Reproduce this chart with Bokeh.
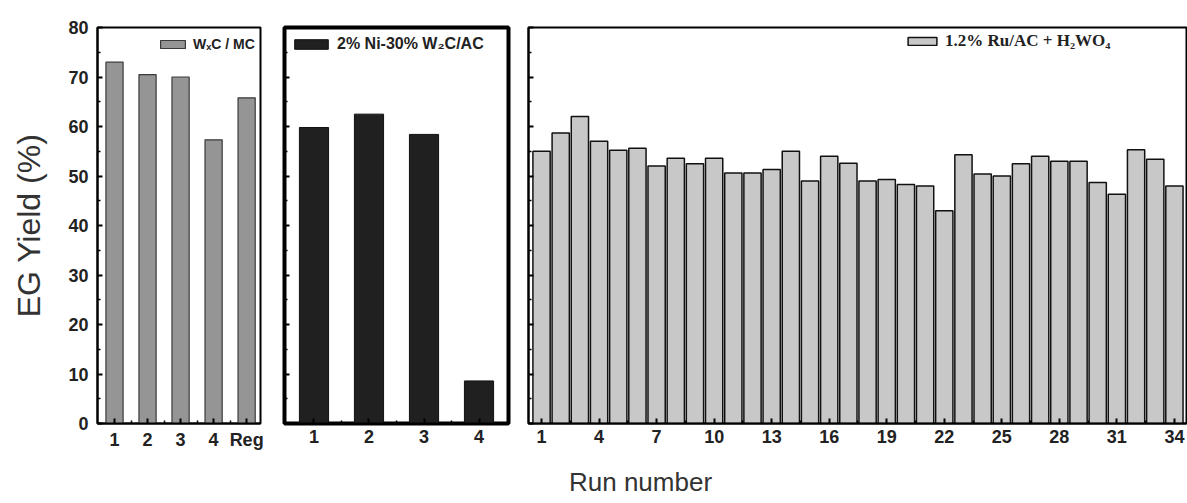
from bokeh.plotting import figure
from bokeh.models import Range1d, FixedTicker, Legend, LegendItem, Label, ColumnDataSource
from bokeh.layouts import row, column
from bokeh.embed import file_html
from bokeh.resources import INLINE

# ---- data ----
wxc_runs = [1, 2, 3, 4, 5]
wxc_labels = ["1", "2", "3", "4", "Reg"]
wxc_yield = [73.0, 70.5, 70.0, 57.3, 65.8]

ni_runs = [1, 2, 3, 4]
ni_yield = [59.8, 62.5, 58.4, 8.6]

ru_runs = list(range(1, 35))
ru_yield = [55.0, 58.7, 62.0, 57.0, 55.2, 55.6, 52.0, 53.6, 52.5, 53.6,
            50.6, 50.6, 51.3, 55.0, 49.0, 54.0, 52.6, 49.0, 49.3, 48.3,
            48.0, 43.0, 54.3, 50.4, 50.0, 52.5, 54.0, 53.0, 53.0, 48.7,
            46.3, 55.3, 53.4, 48.0]
ru_ticks = [1, 4, 7, 10, 13, 16, 19, 22, 25, 28, 31, 34]

y_ticks = [0, 10, 20, 30, 40, 50, 60, 70, 80]
y_minor = [5, 15, 25, 35, 45, 55, 65, 75]

legend_wxc = "WₓC / MC"
legend_ni = "2% Ni-30% W₂C/AC"
legend_ru = "1.2% Ru/AC + H₂WO₄"

SANS = "Liberation Sans"
SERIF = "Liberation Serif"
H = 455


def style(p, outline_w, show_ylabels):
    p.outline_line_color = "black"
    p.outline_line_width = outline_w
    p.xgrid.visible = False
    p.ygrid.visible = False
    for ax in (p.xaxis[0], p.yaxis[0]):
        ax.axis_line_width = 2
        ax.axis_line_color = "black"
        ax.major_tick_in = 5
        ax.major_tick_out = 0
        ax.minor_tick_in = 3
        ax.minor_tick_out = 0
        ax.major_tick_line_width = 2
        ax.minor_tick_line_width = 1.5
        ax.major_label_text_font = SANS
        ax.major_label_text_font_style = "bold"
        ax.major_label_text_font_size = "18px"
        ax.major_label_text_color = "#222222"
    p.yaxis[0].ticker = FixedTicker(ticks=y_ticks, minor_ticks=y_minor)
    p.xaxis[0].major_label_standoff = 6
    if show_ylabels:
        p.yaxis[0].major_label_standoff = 9
    else:
        p.yaxis[0].major_label_overrides = {t: "" for t in y_ticks}
        p.yaxis[0].major_label_standoff = 0
        p.yaxis[0].major_label_text_font_size = "1px"


def add_legend(p, r, label, vx, vy, gw, gh, font, size):
    leg = Legend(items=[LegendItem(label=label, renderers=[r])],
                 location=(vx, vy), orientation="vertical")
    leg.background_fill_alpha = 0
    leg.border_line_color = None
    leg.padding = 0
    leg.margin = 0
    leg.spacing = 0
    leg.glyph_width = gw
    leg.glyph_height = gh
    leg.label_height = gh
    leg.label_standoff = 5
    leg.label_text_font = font
    leg.label_text_font_style = "bold"
    leg.label_text_font_size = size
    leg.label_text_color = "#222222"
    p.add_layout(leg, "center")


# ---- panel 1 ----
p1 = figure(width=272, height=H, x_range=Range1d(0.485, 5.42), y_range=Range1d(0, 80),
            output_backend="svg", toolbar_location=None,
            min_border_left=97, min_border_right=12, min_border_top=27, min_border_bottom=32)
src1 = ColumnDataSource(dict(x=wxc_runs, y=wxc_yield))
r1 = p1.vbar(x="x", top="y", width=0.52, source=src1, fill_color="#959595",
             line_color="#3a3a3a", line_width=1.2)
style(p1, 2, True)
p1.xaxis[0].ticker = FixedTicker(ticks=wxc_runs, minor_ticks=[1.5, 2.5, 3.5, 4.5])
p1.xaxis[0].major_label_overrides = {x: l for x, l in zip(wxc_runs, wxc_labels)}
p1.yaxis[0].axis_label = "EG Yield (%)"
p1.yaxis[0].axis_label_text_font = SANS
p1.yaxis[0].axis_label_text_font_style = "normal"
p1.yaxis[0].axis_label_text_font_size = "32px"
p1.yaxis[0].axis_label_text_color = "#333333"
p1.yaxis[0].axis_label_standoff = 18
add_legend(p1, r1, legend_wxc, 60, 371, 31, 10, SANS, "14px")

# ---- panel 2 ----
p2 = figure(width=246, height=H, x_range=Range1d(0.464, 4.536), y_range=Range1d(0, 80),
            output_backend="svg", toolbar_location=None,
            min_border_left=12, min_border_right=10, min_border_top=27, min_border_bottom=32)
src2 = ColumnDataSource(dict(x=ni_runs, y=ni_yield))
r2 = p2.vbar(x="x", top="y", width=0.53, source=src2, fill_color="#202020",
             line_color="#111111", line_width=1)
style(p2, 4, False)
p2.xaxis[0].ticker = FixedTicker(ticks=ni_runs, minor_ticks=[1.5, 2.5, 3.5])
add_legend(p2, r2, legend_ni, 6, 370, 42, 12, SANS, "16px")

# ---- panel 3 ----
p3 = figure(width=669, height=H, x_range=Range1d(0.32, 34.63), y_range=Range1d(0, 80),
            output_backend="svg", toolbar_location=None,
            min_border_left=10, min_border_right=1, min_border_top=27, min_border_bottom=32)
src3 = ColumnDataSource(dict(x=ru_runs, y=ru_yield))
r3 = p3.vbar(x="x", top="y", width=0.9, source=src3, fill_color="#c8c8c8",
             line_color="#111111", line_width=1.5)
style(p3, 2, False)
p3.xaxis[0].ticker = FixedTicker(ticks=ru_ticks, minor_ticks=[t + 1.5 for t in ru_ticks[:-1]])
add_legend(p3, r3, legend_ru, 376, 372, 36, 10, SERIF, "17px")

# ---- shared x title ----
p4 = figure(width=1187, height=48, x_range=Range1d(0, 1187), y_range=Range1d(0, 48),
            output_backend="svg", toolbar_location=None,
            min_border_left=0, min_border_right=0, min_border_top=0, min_border_bottom=0)
p4.axis.visible = False
p4.grid.visible = False
p4.outline_line_color = None
p4.add_layout(Label(x=640, y=22, text="Run number", text_align="center",
                    text_baseline="middle", text_font=SANS, text_font_size="26px",
                    text_color="#333333"))

layout = column(row(p1, p2, p3, spacing=0), p4, spacing=0)
open("out.html", "w").write(file_html(layout, INLINE))
